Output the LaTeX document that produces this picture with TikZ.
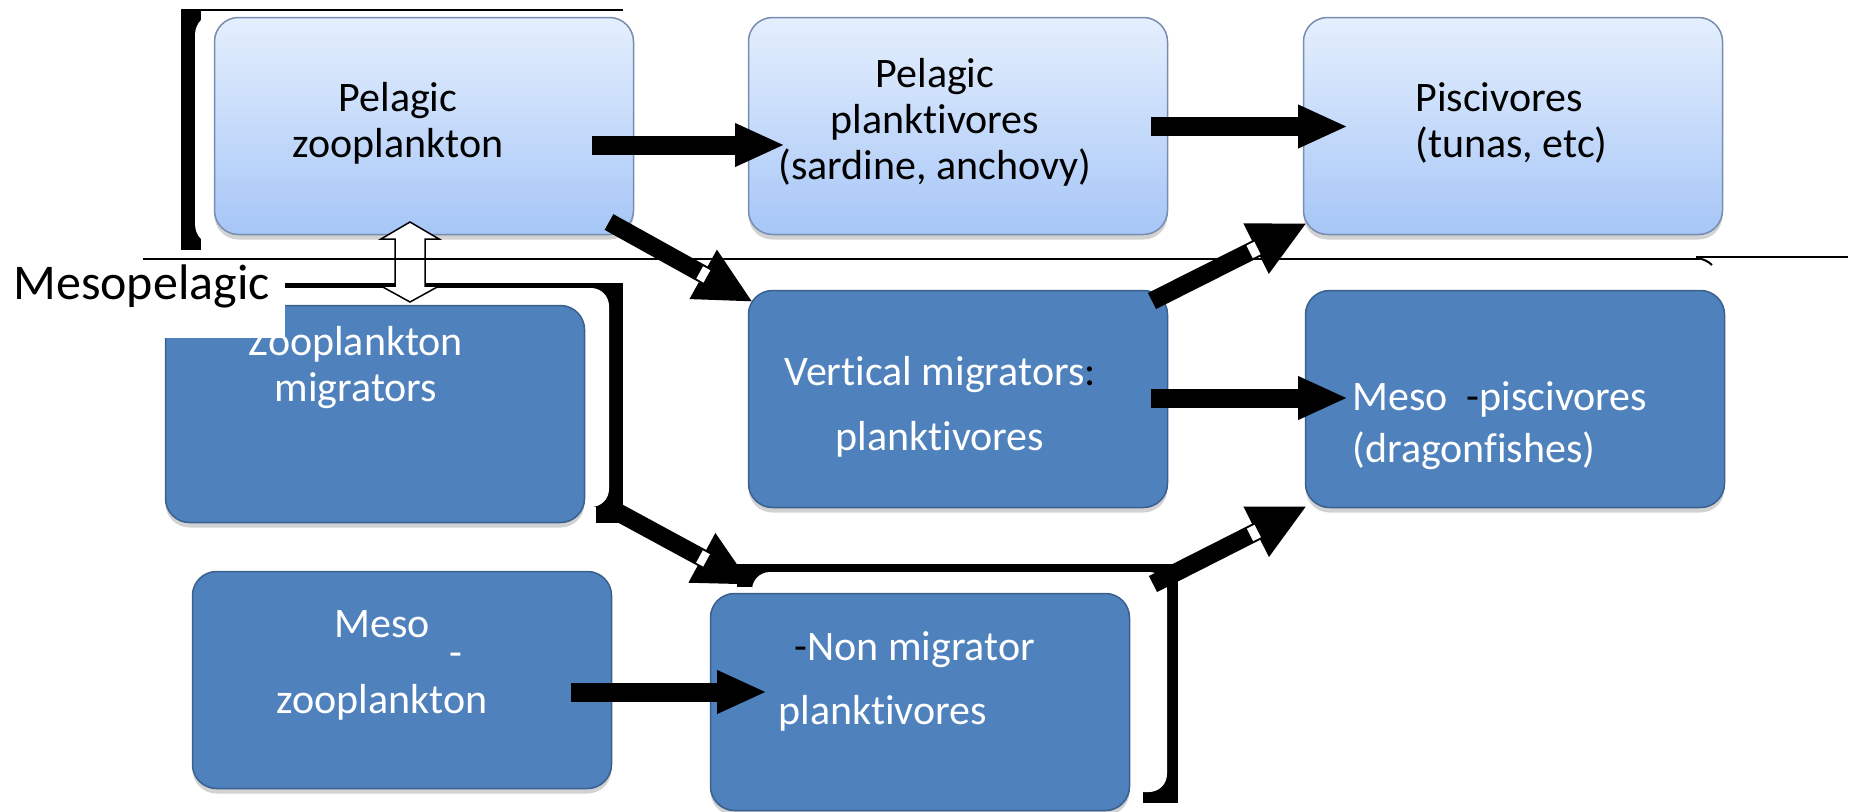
\documentclass[tikz,border=0pt]{standalone}
\usepackage{fontspec}
\setmainfont{Carlito}[Ligatures=NoCommon]
\usetikzlibrary{calc,arrows.meta,shadows}

\definecolor{lighttop}{RGB}{229,239,253}
\definecolor{lightbot}{RGB}{166,198,247}
\definecolor{lightedge}{RGB}{120,140,175}
\definecolor{darkfill}{RGB}{79,129,189}
\definecolor{darkedge}{RGB}{58,96,142}

\tikzset{
	boxshadow/.style={drop shadow={shadow xshift=0pt,shadow yshift=-2.5pt,opacity=.25,fill=black!70}},
	lightbox/.style={draw=lightedge,line width=.75pt,rounded corners=12pt,
		minimum width=209.5pt,minimum height=108.5pt,
		top color=lighttop,bottom color=lightbot,boxshadow},
	darkbox/.style={draw=darkedge,line width=.75pt,rounded corners=12pt,
		minimum width=209.5pt,minimum height=108.5pt,fill=darkfill,boxshadow},
	boxtext/.style={align=center,inner sep=0pt,font=\fontsize{21}{23}\selectfont,
		text height=14.5pt,text depth=4.5pt},
	fatarrow/.style={line width=9.5pt,-{Triangle[width=20pt,length=25pt]}},
	slantarrow/.style={line width=9pt,-{Triangle[width=26pt,length=28.5pt]}},
	gap/.style={white,line width=7pt}
}

\begin{document}
\begin{tikzpicture}[x=0.5pt,y=-0.5pt,line join=miter]
	\useasboundingbox (0,0) rectangle (1854,811);
	% frames behind the boxes
	\fill (181,9) rectangle (201,250);
	\draw[line width=1pt] (181,9.5) -- (623,9.5);
	\fill[white,rounded corners=11pt] (195,13) rectangle (660,246);
	\fill (285,283) rectangle (623,507);
	\fill (596,507) rectangle (623,523);
	\fill[white,rounded corners=9pt] (150,288) rectangle (609,507);
	\fill (752,564) rectangle (1178,792);
	\fill (737,564) rectangle (752,587);
	\fill (1143,792) rectangle (1178,803);
	\fill[white,rounded corners=9pt] (752,572) rectangle (1167,792);
	% boxes
	\node[lightbox] (pz) at (424,126) {};
	\node[lightbox] (pp) at (958,126) {};
	\node[lightbox] (ps) at (1513,126) {};
	\node[darkbox] (zm) at (375,414) {};
	\node[darkbox] (vm) at (958,399) {};
	\node[darkbox] (mp) at (1515,399) {};
	\node[darkbox] (mz) at (402,680) {};
	\node[darkbox] (nm) at (920,702) {};
	% texts (y = last baseline - 10)
	\node[boxtext] (pz-t) at (398,147) {Pelagic\\zooplankton};
	\node[boxtext] (pp-t) at (935,169) {Pelagic\\planktivores\\(sardine, anchovy)};
	\node[boxtext,align=left,anchor=west] (ps-t) at (1415,147) {Piscivores\\(tunas, etc)};
	\node[boxtext,white] (zm-t) at (356,391) {Zooplankton\\migrators};
	\node[boxtext,white] (vm-t) at (940,440) {Vertical migrators{\color{black}:}\\[9.5pt]planktivores};
	\node[boxtext,white,align=left,anchor=west] (mp-t) at (1352,452) {Meso\ \ {\color{black}-}piscivores\\[3pt](dragonfishes)};
	\node[boxtext,white] (mz-t) at (382,703) {Meso\\[15pt]zooplankton};
	\node[boxtext,white,anchor=base] (mz-h) at (456,666) {-};
	\node[boxtext,white,align=left,anchor=west] (nm-t) at (778,714) {\hspace*{8pt}{\color{black}-}Non migrator\\[9pt]planktivores};
	% cut-off corner and layer name
	\fill[white] (0,261) rectangle (285,338);
	\node[anchor=base west,inner sep=0pt,font=\fontsize{25}{30}\selectfont] (meso) at (13,299) {Mesopelagic};
	% arrows
	\coordinate (pz-out) at (592,145);
	\coordinate (pp-in) at (785,145);
	\coordinate (pp-out) at (1151,126.5);
	\coordinate (ps-in) at (1348,126.5);
	\coordinate (vm-out) at (1151,398);
	\coordinate (mp-in) at (1348,398);
	\coordinate (mz-out) at (571,692);
	\coordinate (nm-in) at (767,692);
	\draw[fatarrow] (pz-out) -- (pp-in);
	\draw[fatarrow] (pp-out) -- (ps-in);
	\draw[fatarrow] (vm-out) -- (mp-in);
	\draw[fatarrow] (mz-out) -- (nm-in);
	\coordinate (pz-down) at (609,222);
	\coordinate (vm-in) at (753,302);
	\coordinate (vm-up) at (1152,301);
	\coordinate (ps-low) at (1307,223);
	\coordinate (zm-down) at (610,508);
	\coordinate (nm-top) at (752,585);
	\coordinate (nm-up) at (1153,584);
	\coordinate (mp-low) at (1307,506);
	\draw[slantarrow] (pz-down) -- (vm-in);
	\draw[slantarrow] (vm-up) -- (ps-low);
	\draw[slantarrow] (zm-down) -- (nm-top);
	\draw[slantarrow] (nm-up) -- (mp-low);
	\draw[gap] ($(pz-down)!.63!(vm-in)$) -- ($(pz-down)!.68!(vm-in)$);
	\draw[gap] ($(vm-up)!.63!(ps-low)$) -- ($(vm-up)!.68!(ps-low)$);
	\draw[gap] ($(zm-down)!.63!(nm-top)$) -- ($(zm-down)!.68!(nm-top)$);
	\draw[gap] ($(nm-up)!.63!(mp-low)$) -- ($(nm-up)!.68!(mp-low)$);
	% up and down exchange
	\draw[fill=white,line width=.75pt] (410,222) -- (439,239) -- (425,239) -- (425,286) -- (439,286)
		-- (410,302) -- (381,286) -- (395,286) -- (395,239) -- (381,239) -- cycle;
	% border line
	\draw[line width=1pt] (143,259) -- (1700,259);
	\draw[line width=1pt] (1696,257) -- (1848,257);
	\draw[line width=1pt] (1696,257.5) .. controls (1703,259) and (1708,261) .. (1712,265);
\end{tikzpicture}
\end{document}
